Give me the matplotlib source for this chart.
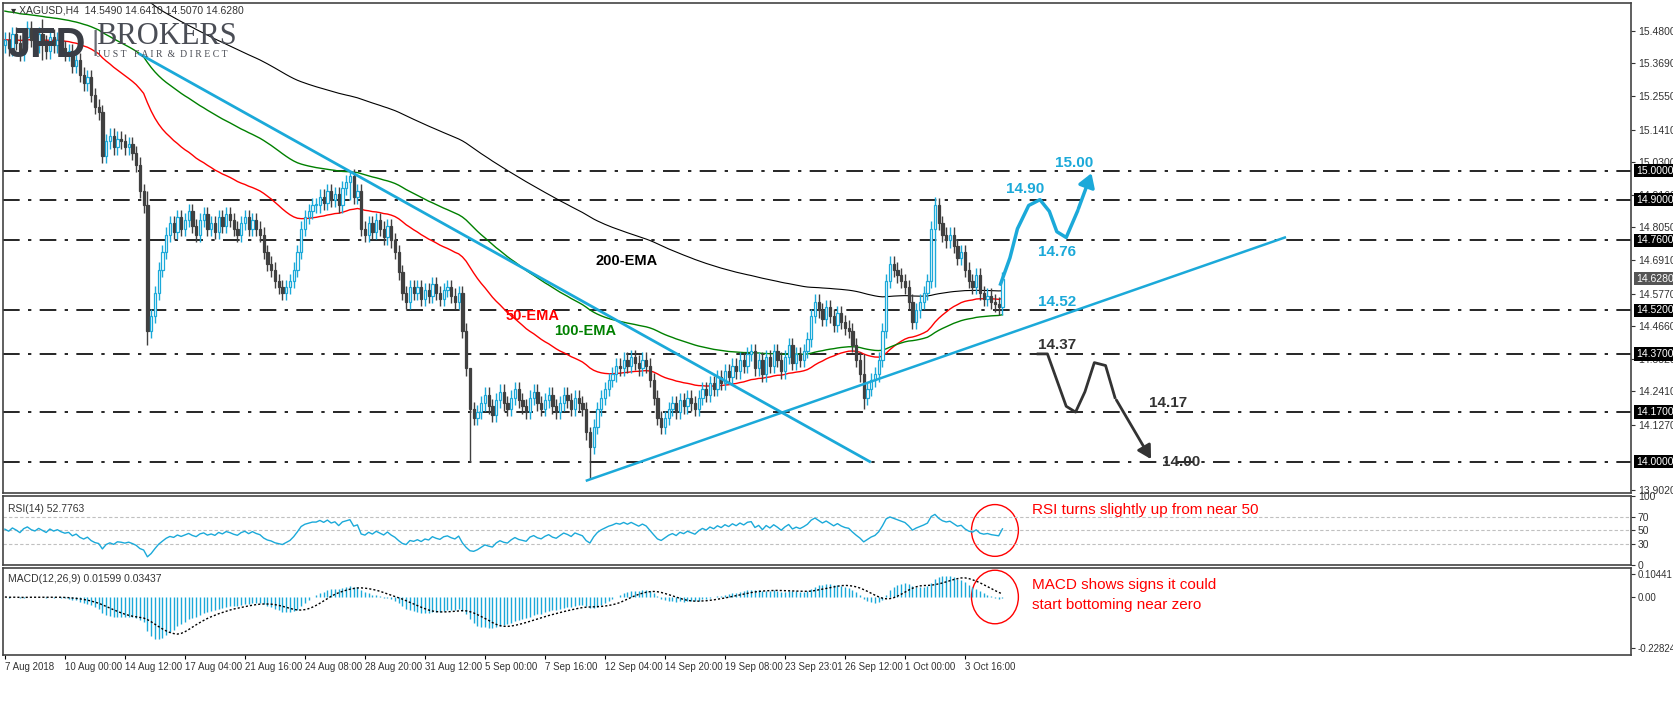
import numpy as np
import matplotlib
matplotlib.use("Agg")
import matplotlib.pyplot as plt
from matplotlib.patches import Ellipse, Rectangle

plt.rcParams['font.family'] = ['Liberation Sans', 'DejaVu Sans']

closes = [15.45,15.42,15.47,15.44,15.40,15.46,15.49,15.45,15.43,15.47,15.44,15.41,15.46,15.43,15.45,15.42,
          15.40,15.41,15.36,15.38,15.33,15.30,15.32,15.26,15.22,15.20,
          15.05,15.10,15.12,15.08,15.11,15.10,15.08,15.09,15.06,15.02,
          14.93,14.88,14.45,14.50,14.58,14.66,14.72,
          14.78,14.82,14.79,14.84,14.80,14.83,14.86,14.81,14.78,14.83,14.85,14.80,14.82,14.79,14.84,14.81,14.85,14.83,14.80,14.78,14.82,14.84,14.80,14.83,
          14.80,14.78,14.72,14.68,
          14.66,14.62,14.60,14.58,14.60,14.62,
          14.66,14.72,14.80,14.84,14.86,14.88,
          14.88,14.91,14.89,14.93,14.90,14.92,14.88,14.94,14.96,14.98,14.91,14.93,
          14.80,14.78,14.82,14.79,14.83,14.80,14.77,14.81,14.76,14.72,
          14.65,14.58,14.55,14.60,
          14.58,14.60,14.56,14.59,14.57,14.61,14.58,14.56,14.59,14.60,14.57,14.55,14.58,
          14.45,14.32,14.18,14.15,
          14.17,14.20,14.23,14.19,14.16,14.21,14.24,14.20,14.18,14.22,14.25,14.21,14.19,14.17,14.22,14.24,14.20,14.18,14.21,14.23,14.19,14.17,14.20,14.23,14.21,14.18,14.22,14.20,
          14.18,14.10,14.05,14.12,14.18,
          14.22,14.25,14.28,14.30,14.33,
          14.32,14.35,14.33,14.36,14.34,14.32,14.35,14.33,
          14.28,14.22,14.15,14.12,14.15,
          14.18,14.20,14.17,14.21,14.19,14.22,14.20,14.18,14.22,
          14.25,14.23,14.27,14.25,14.29,14.27,14.31,14.29,14.33,14.31,14.35,14.33,14.37,14.38,
          14.32,14.35,14.30,14.36,14.33,14.38,14.35,14.31,14.36,14.40,14.34,14.37,14.35,
          14.38,14.42,14.50,14.55,
          14.52,14.49,14.53,14.50,14.47,14.51,14.48,14.46,14.45,
          14.40,14.35,14.30,14.22,
          14.25,14.28,14.30,14.35,
          14.45,14.62,14.68,
          14.66,14.64,14.62,14.60,
          14.55,14.48,14.52,
          14.55,14.58,14.62,
          14.80,14.88,
          14.82,14.78,14.76,14.78,14.74,14.70,14.72,
          14.66,14.62,14.60,14.64,14.58,14.56,14.57,
          14.55,14.54,14.53,14.628]
first_open = 15.43
wick = 0.025
big_wicks = {38: (14.93, 14.40), 92: (15.00, 14.90), 156: (14.12, 13.94), 248: (14.91, 14.60),
             229: (14.37, 14.18), 124: (14.32, 14.00), 10: (15.52, 15.38)}

xlabels = ["7 Aug 2018", "10 Aug 00:00", "14 Aug 12:00", "17 Aug 04:00", "21 Aug 16:00", "24 Aug 08:00",
           "28 Aug 20:00", "31 Aug 12:00", "5 Sep 00:00", "7 Sep 16:00", "12 Sep 04:00", "14 Sep 20:00",
           "19 Sep 08:00", "23 Sep 23:01", "26 Sep 12:00", "1 Oct 00:00", "3 Oct 16:00"]
xlabel_bars = [0, 16, 32, 48, 64, 80, 96, 112, 128, 144, 160, 176, 192, 208, 224, 240, 256]
levels = [15.00, 14.90, 14.76, 14.52, 14.37, 14.17, 14.00]
price_ticks = [15.48, 15.369, 15.255, 15.141, 15.03, 14.916, 14.805, 14.691, 14.577, 14.466, 14.352, 14.241, 14.127, 13.902]
ema_seeds = {50: 15.45, 100: 15.55, 200: 15.75}

down_line = ([36, 230.6], [15.40, 14.00])
up_line = ([155.2, 341.3], [13.935, 14.77])
blue_path = ([265.5, 268, 270, 273, 276, 278.5, 280.5, 283, 286],
             [14.61, 14.70, 14.80, 14.88, 14.90, 14.86, 14.79, 14.77, 14.86])
blue_arrow = ((286, 14.86), (290, 15.00))
black_path = ([275.5, 278, 280.5, 283, 285.5, 288, 290.5, 293.5, 296],
              [14.37, 14.37, 14.28, 14.19, 14.17, 14.24, 14.34, 14.33, 14.22])
black_arrow = ((296, 14.22), (306, 14.00))

BLUE = "#1ba9d9"
DARK = "#404040"

c = np.array(closes)
n = len(c)
o = np.concatenate([[first_open], c[:-1]])
hi = np.maximum(o, c) + wick
lo = np.minimum(o, c) - wick
for k, (h, l) in big_wicks.items():
    hi[k] = h; lo[k] = l
idx = np.arange(n)

def ema(x, span, seed):
    a = 2 / (span + 1)
    out = np.empty(len(x)); prev = seed
    for i, v in enumerate(x):
        prev = a * v + (1 - a) * prev
        out[i] = prev
    return out

fig = plt.figure(figsize=(16.74, 7.22), dpi=100)
axm = fig.add_axes([0.0018, 0.3172, 0.9725, 0.6787])
axr = fig.add_axes([0.0018, 0.2175, 0.9725, 0.0956])
axd = fig.add_axes([0.0018, 0.0928, 0.9725, 0.1205])
xlim = (-0.5, 433.6)
for ax in (axm, axr, axd):
    ax.set_xlim(*xlim)
    ax.yaxis.tick_right()
    ax.tick_params(axis='y', labelsize=7.5, colors='#333333', length=3, pad=2)
    for s in ax.spines.values():
        s.set_color('#444444'); s.set_linewidth(1.2)
    ax.set_xticks([])

axm.set_ylim(13.892, 15.576)
axm.set_yticks(price_ticks)
axm.set_yticklabels([f"{t:.4f}" for t in price_ticks])

up = c >= o
axm.vlines(idx, lo, hi, colors=np.where(up, BLUE, DARK), linewidth=1, zorder=3)
for i in range(n):
    col = BLUE if up[i] else DARK
    b = min(o[i], c[i]); h = max(abs(c[i] - o[i]), 0.004)
    axm.add_patch(Rectangle((i - 0.3, b), 0.6, h, facecolor='white' if up[i] else DARK,
                            edgecolor=col, linewidth=0.9, zorder=4))

axm.plot(idx, ema(c, 50, ema_seeds[50]), color='red', lw=1, zorder=2)
axm.plot(idx, ema(c, 100, ema_seeds[100]), color='green', lw=1, zorder=2)
axm.plot(idx, ema(c, 200, ema_seeds[200]), color='black', lw=0.8, zorder=2)

for lv in levels:
    axm.axhline(lv, color='black', lw=1.2, dashes=(10, 5, 2, 5), zorder=1)
    axm.text(1.003, lv, f"{lv:.4f}", transform=axm.get_yaxis_transform(), fontsize=7.5, color='white',
             va='center', ha='left', bbox=dict(facecolor='black', edgecolor='none', pad=1.2), zorder=10, clip_on=False)
axm.text(1.003, c[-1], f"{c[-1]:.4f}", transform=axm.get_yaxis_transform(), fontsize=7.5, color='white',
         va='center', ha='left', bbox=dict(facecolor='#555555', edgecolor='none', pad=1.2), clip_on=False)

axm.plot(*down_line, color=BLUE, lw=2, zorder=5)
axm.plot(*up_line, color=BLUE, lw=1.8, zorder=5)
axm.plot(*blue_path, color=BLUE, lw=2.5, zorder=6)
axm.annotate("", xy=blue_arrow[1], xytext=blue_arrow[0],
             arrowprops=dict(arrowstyle='-|>,head_width=0.5,head_length=0.8', color=BLUE, lw=2.5))
axm.plot(*black_path, color='#333333', lw=2, zorder=6)
axm.annotate("", xy=black_arrow[1], xytext=black_arrow[0],
             arrowprops=dict(arrowstyle='-|>,head_width=0.45,head_length=0.8', color='#333333', lw=2))

for txt, x, y, col in [("14.90", 267, 14.935, BLUE), ("15.00", 280, 15.025, BLUE), ("14.76", 275.5, 14.72, BLUE),
                       ("14.52", 275.5, 14.55, BLUE), ("14.37", 275.5, 14.40, '#333333'),
                       ("14.17", 305, 14.20, '#333333'), ("14.00", 308.5, 14.00, '#333333')]:
    axm.text(x, y, txt, color=col, fontsize=11, fontweight='bold', va='center', ha='left')
axm.text(157.5, 14.69, "200-EMA", fontsize=10.5, fontweight='bold', color='black', va='center')
axm.text(133.5, 14.50, "50-EMA", fontsize=10.5, fontweight='bold', color='red', va='center')
axm.text(146.5, 14.45, "100-EMA", fontsize=10.5, fontweight='bold', color='green', va='center')

axm.text(0.005, 0.995, "▾ XAGUSD,H4  14.5490 14.6410 14.5070 14.6280", transform=axm.transAxes,
         fontsize=7.5, color='#333333', va='top', zorder=20)
axm.text(0.003, 0.952, "JFD", transform=axm.transAxes, fontsize=30, fontweight='bold', color='#3a3d45',
         va='top', zorder=20)
axm.text(0.0545, 0.945, "|", transform=axm.transAxes, fontsize=20, color='#6a6d75', va='top', zorder=20)
axm.text(0.057, 0.962, "BROKERS", transform=axm.transAxes, fontsize=22, color='#4a4d55', va='top',
         family='Liberation Serif', zorder=20)
axm.text(0.058, 0.905, "J U S T   F A I R  &  D I R E C T", transform=axm.transAxes, fontsize=7, color='#4a4d55',
         va='top', family='Liberation Serif', zorder=20)

d = np.diff(np.concatenate([[first_open], c]))
g = np.where(d > 0, d, 0); l_ = np.where(d < 0, -d, 0)
ag, al = 0.02, 0.02
rsi = np.empty(n)
for i in range(n):
    ag = (ag * 13 + g[i]) / 14; al = (al * 13 + l_[i]) / 14
    rsi[i] = 100 - 100 / (1 + ag / al)
axr.set_ylim(0, 100)
axr.set_yticks([100, 70, 50, 30, 0])
for lv in (70, 50, 30):
    axr.axhline(lv, color='#c0c0c0', lw=0.8, ls=(0, (3, 2)))
axr.plot(idx, rsi, color=BLUE, lw=1)
axr.text(0.003, 0.88, "RSI(14) 52.7763", transform=axr.transAxes, fontsize=7.5, color='#333333', va='top')
axr.add_patch(Ellipse((264, 50), 12.5, 75, fill=False, color='red', lw=1))
axr.text(274, 80, "RSI turns slightly up from near 50", color='red', fontsize=11, va='center')

macd = ema(c, 12, c[0]) - ema(c, 26, c[0])
sig = np.convolve(macd, np.ones(9) / 9, mode='full')[:n]
sig[:8] = [macd[:k + 1].mean() for k in range(8)]
axd.set_ylim(-0.26, 0.13)
axd.set_yticks([0.10441, 0.0, -0.22824])
axd.set_yticklabels(["0.10441", "0.00", "-0.22824"], fontsize=7)
axd.vlines(idx, 0, macd, color=BLUE, lw=1)
axd.plot(idx, sig, color='black', lw=1, ls=(0, (1.5, 1.5)))
axd.text(0.003, 0.93, "MACD(12,26,9) 0.01599 0.03437", transform=axd.transAxes, fontsize=7.5, color='#333333', va='top')
axd.add_patch(Ellipse((264, 0.0), 12.5, 0.24, fill=False, color='red', lw=1))
axd.text(274, 0.055, "MACD shows signs it could", color='red', fontsize=11, va='center')
axd.text(274, -0.035, "start bottoming near zero", color='red', fontsize=11, va='center')

axd.set_xticks(xlabel_bars)
axd.set_xticklabels(xlabels, fontsize=7, color='#333333', ha='left')
axd.tick_params(axis='x', length=3, pad=2)

fig.savefig("out.png", dpi=100, facecolor='white')
